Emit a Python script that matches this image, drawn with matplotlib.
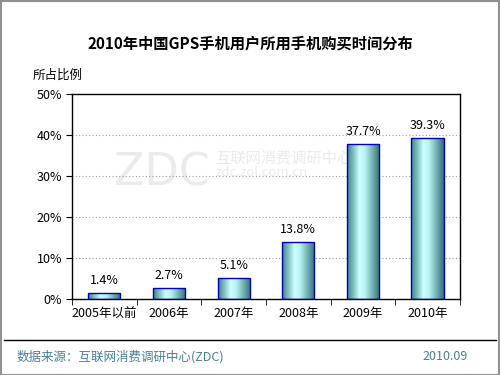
import matplotlib.pyplot as plt
import numpy as np
from matplotlib.colors import LinearSegmentedColormap
from matplotlib.patches import Rectangle
from matplotlib.lines import Line2D

plt.rcParams['font.family'] = ['Noto Sans CJK SC', 'DejaVu Sans']

categories = ['2005年以前', '2006年', '2007年', '2008年', '2009年', '2010年']
values = [1.4, 2.7, 5.1, 13.8, 37.7, 39.3]
yticks = [0, 10, 20, 30, 40, 50]

fig = plt.figure(figsize=(5, 3.75), dpi=100)
ax = fig.add_axes([0.144, 0.2027, 0.776, 0.5467])
ax.set_zorder(2)
ax.patch.set_alpha(0)

x = np.arange(len(categories))
width = 0.5
bars = ax.bar(x, values, width=width, facecolor='none', edgecolor='#0000c0', linewidth=1.0, zorder=3)

# horizontal gradient inside bars
cmap = LinearSegmentedColormap.from_list('tealbar', [(0, '#3a8585'), (0.38, '#ccffff'), (0.55, '#b8f2f2'), (1, '#2f7474')])
grad = np.linspace(0, 1, 64).reshape(1, -1)
for b in bars:
    x0 = b.get_x()
    h = b.get_height()
    im = ax.imshow(grad, cmap=cmap, aspect='auto', extent=[x0, x0 + width, 0, h], zorder=2)
    im.set_clip_path(b)
    ax.text(b.get_x() + width / 2, h + 1.5, f'{h:.1f}%', ha='center', va='bottom', fontsize=9, color='black')

ax.set_xlim(-0.5, len(categories) - 0.5)
ax.set_ylim(0, 50)
ax.set_yticks(yticks)
ax.set_yticklabels([f'{t}%' for t in yticks], fontsize=9)
ax.set_xticks(x)
ax.set_xticklabels(categories, fontsize=9)
ax.tick_params(axis='x', length=0, pad=6)
ax.set_xticks(np.arange(len(categories) + 1) - 0.5, minor=True)
ax.tick_params(axis='x', which='minor', length=4, direction='out')
ax.tick_params(axis='y', length=4, direction='out', pad=3)
for t in yticks[1:-1]:
    ax.axhline(t, color='#a0a0a0', linestyle=(0, (1, 2)), linewidth=0.8, zorder=1)
for s in ax.spines.values():
    s.set_linewidth(1.0)

# watermark (behind the axes)
fig.text(0.42, 0.54, 'ZDC', fontsize=32, color='#ebebeb', ha='right', va='center', family='DejaVu Sans', zorder=1)
fig.text(0.43, 0.578, '互联网消费调研中心', fontsize=11, color='#ebebeb', ha='left', va='center', zorder=1)
fig.text(0.43, 0.54, 'zdc.zol.com.cn', fontsize=9.5, color='#ebebeb', ha='left', va='center', zorder=1)

fig.text(0.5, 0.885, '2010年中国GPS手机用户所用手机购买时间分布', fontsize=11, fontweight='bold', ha='center', va='center')
fig.text(0.066, 0.80, '所占比例', fontsize=9, ha='left', va='center')

fig.add_artist(Line2D([0.008, 0.992], [0.093, 0.093], color='black', linewidth=1.0))
fig.text(0.034, 0.048, '数据来源：互联网消费调研中心(ZDC)', fontsize=9, color='#4a7f9a', ha='left', va='center')
fig.text(0.935, 0.048, '2010.09', fontsize=9, color='#4a7f9a', ha='right', va='center')
fig.add_artist(Rectangle((0.001, 0.001), 0.997, 0.997, transform=fig.transFigure, fill=False, edgecolor='#909090', linewidth=1.5))

fig.savefig('out.png', dpi=100)
